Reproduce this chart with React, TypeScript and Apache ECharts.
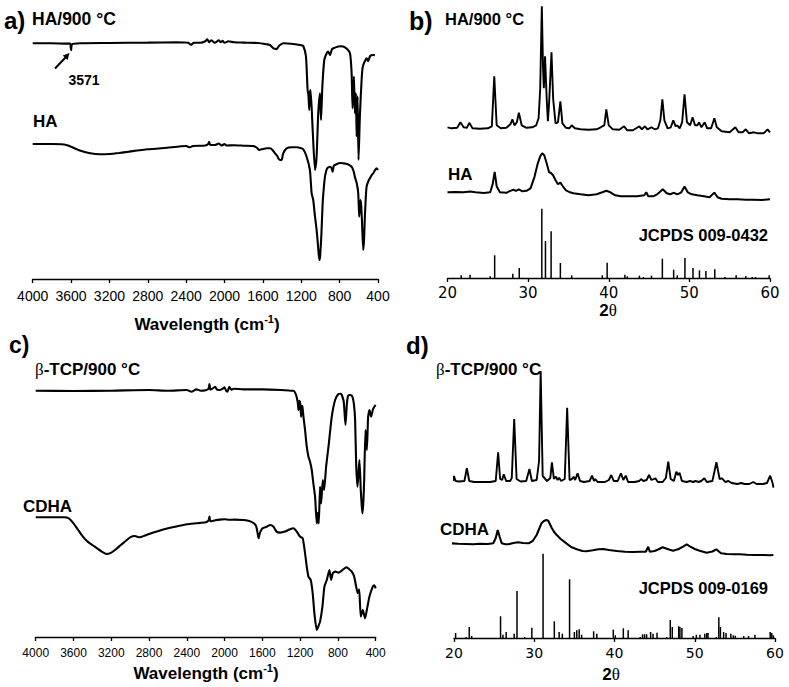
import React, { useEffect, useRef } from "react";
import * as echarts from "echarts";

// ---------- Panel a: FTIR (wavenumber, relative transmittance a.u.) ----------
const FTIR_TICKS = [4000, 3600, 3200, 2800, 2400, 2000, 1600, 1200, 800, 400];

const HA900_FTIR: number[][] = [
  [4000, 0], [3800, 0], [3650, -0.3], [3610, -0.3], [3600, -7], [3590, -1], [3500, 0], [3200, 0.3],
  [2800, 0.7], [2500, 1], [2380, 0.5], [2350, -1.5], [2320, 0.5], [2250, 0.5], [2200, 2], [2180, 4],
  [2160, 1], [2140, 3], [2100, 0.5], [2060, 3], [2040, 1], [2020, 2.5], [2000, 0.5], [1960, 2],
  [1900, 1], [1800, 0.7], [1650, 0.3], [1560, -1], [1526, -1.7], [1491, -5], [1470, -5.5], [1457, -6],
  [1440, -3.5], [1422, -1.7], [1388, 0], [1283, -0.7], [1200, -2], [1179, -2.7], [1151, -13],
  [1134, -46.7], [1125, -52], [1117, -66.7], [1110, -50], [1103, -46.7], [1081, -86.7], [1057, -126.7],
  [1040, -113], [1023, -70], [1005, -50], [994, -76.7], [980, -43], [960, -16.7], [935, -10], [918, -8.3],
  [901, -11.7], [880, -6], [866, -5], [800, -3], [762, -3.3], [720, -6], [692, -10], [675, -30],
  [665, -65], [651, -33.3], [641, -70], [630, -50], [623, -93], [613, -53], [603, -116.7], [589, -73],
  [571, -36.7], [560, -24], [547, -20], [519, -15], [502, -18], [484, -13], [470, -12], [450, -11.7], [432, -12],
];

const HA_FTIR: number[][] = [
  [4000, 0], [3800, 0], [3700, -0.3], [3650, -1], [3600, -2.7], [3500, -6.7], [3400, -9.3], [3300, -10.3],
  [3200, -10], [3100, -9], [3000, -7.7], [2800, -5.3], [2600, -3.7], [2400, -2], [2360, -3.3], [2330, -2],
  [2200, -1.5], [2170, 0], [2160, 2.3], [2150, -1], [2100, -1], [2060, 0.5], [2030, -1.5], [2000, 0],
  [1980, -1.5], [1900, -1.3], [1800, -1.7], [1700, -2], [1660, -4], [1640, -6], [1600, -5], [1560, -4.3],
  [1526, -4.3], [1500, -6], [1474, -9.3], [1450, -12], [1439, -14.3], [1420, -16], [1405, -16],
  [1388, -9.3], [1353, -4.3], [1300, -3.3], [1248, -3.3], [1200, -4.3], [1179, -5.3], [1144, -12.7],
  [1110, -26], [1092, -49.3], [1075, -56], [1060, -70], [1040, -86], [1025, -102], [1012, -116],
  [1005, -114], [990, -90], [977, -59.3], [965, -44], [953, -32.7], [940, -27], [929, -24.3], [901, -22.7],
  [885, -24], [873, -27.7], [862, -22], [849, -21], [800, -19], [762, -19.3], [720, -20], [675, -22.7],
  [655, -27], [641, -32.7], [620, -40], [606, -49.3], [596, -72.7], [589, -62], [582, -56], [575, -62],
  [568, -75], [554, -106], [545, -95], [537, -72.7], [528, -55], [519, -42.7], [500, -37], [484, -34.3],
  [465, -31], [450, -29.3], [430, -26], [415, -24.3], [400, -26],
];

// ---------- Panel b: XRD (2θ, intensity a.u.) ----------
const TWO_THETA_TICKS = [20, 30, 40, 50, 60];

const HA900_XRD: number[][] = [
  [20.0, 1], [20.5, 0], [21.2, 0.5], [21.6, 6], [22.0, 1], [22.4, 0.5], [22.7, 5.5], [23.1, 0], [24.0, -0.5],
  [25.0, 0], [25.5, 2], [25.8, 52], [26.1, 3], [26.6, 0], [27.3, 0.5], [27.8, 4], [28.05, 9], [28.3, 3],
  [28.6, 6], [28.85, 15.5], [29.2, 3], [29.8, 0.5], [30.5, 1], [31.0, 3], [31.3, 10], [31.5, 40],
  [31.7, 122], [31.85, 60], [31.95, 40], [32.1, 72], [32.3, 30], [32.45, 7], [32.6, 25], [32.9, 76],
  [33.1, 30], [33.4, 5], [33.7, 6], [34.0, 27], [34.25, 5], [34.7, 0.5], [35.1, 0], [35.4, 3], [35.8, 0],
  [36.5, -1], [37.5, -1.5], [38.5, -1], [39.0, 1], [39.2, 2], [39.45, 3], [39.7, 19], [40.0, 3],
  [40.5, -1], [41.3, -1.5], [41.9, 2], [42.3, -2], [43.0, -2], [43.8, 2], [44.1, -1], [44.5, 2],
  [44.8, -1], [45.3, 1], [45.7, -1], [46.1, 0], [46.4, 8], [46.65, 29], [46.9, 8], [47.3, 0], [47.7, 1],
  [48.0, 8], [48.3, 2], [48.5, 3], [48.8, 0], [49.1, 6], [49.4, 34], [49.7, 6], [50.1, 3], [50.4, 11],
  [50.7, 3], [51.0, 3], [51.2, 6], [51.5, 1], [51.9, 6], [52.2, 0], [52.7, 0], [53.1, 10], [53.4, 1],
  [54.0, -3], [55.0, -4], [55.7, 1], [56.1, -4], [56.6, -4], [57.0, -1], [57.4, -5], [58.0, -4],
  [58.5, -5], [59.2, -5], [59.7, -1], [60.0, -4],
];

const HA_XRD: number[][] = [
  [20.0, 0], [21, 0.3], [22, 0], [22.8, 0.7], [23.5, 0], [24.5, -0.7], [25.3, 0], [25.6, 8], [25.85, 20.5],
  [26.1, 6], [26.5, 0], [27.3, -0.5], [27.8, 1.5], [28.1, 2.5], [28.5, 1.5], [28.85, 3], [29.3, 1],
  [29.8, 1.5], [30.3, 4], [30.8, 15.7], [31.2, 29], [31.5, 36], [31.75, 39], [32.0, 37], [32.3, 29],
  [32.6, 20], [32.8, 19.5], [33.1, 17], [33.4, 12], [33.7, 8], [34.0, 9.7], [34.3, 6], [34.7, 2],
  [35.2, 0], [35.6, -1], [36.5, -2], [37.5, -3], [38.5, -2], [39.2, 0], [39.7, 1.5], [40.2, 0],
  [40.8, -3], [41.5, -4], [42.5, -4], [43.5, -4], [44.4, -3], [44.65, 0], [44.9, -4], [45.5, -4],
  [46.0, -2], [46.3, 0], [46.7, 3], [47.2, -1], [47.6, -2], [48.1, -0.5], [48.5, -2], [49.0, 0],
  [49.4, 5.7], [49.8, 0], [50.3, -2], [51, -3], [51.8, -4], [52.5, -5], [53.1, -0.3], [53.5, -5],
  [54, -6.5], [55, -7], [56, -7], [57, -7.5], [58, -7.5], [59, -7.7], [60, -7],
];

const JCPDS_0432: number[][] = [
  [21.7, 2.7], [22.8, 3.3], [25.3, 1.7], [25.85, 22.7], [28.1, 4.3], [28.9, 10], [31.7, 69.3], [32.15, 37],
  [32.85, 46.7], [34.0, 15], [35.4, 2.7], [39.2, 2.7], [39.8, 15.3], [42.0, 3.3], [42.3, 1.7], [43.8, 2.3],
  [44.3, 1], [45.3, 2.3], [46.65, 19.3], [48.05, 8.3], [48.5, 2.7], [49.45, 20], [50.45, 10], [51.25, 7.7],
  [52.05, 7], [53.15, 8.7], [54.4, 1], [55.8, 2.7], [57.0, 2], [57.8, 1], [58.2, 1], [59.9, 2.7],
];

// ---------- Panel c: FTIR ----------
const TCP900_FTIR: number[][] = [
  [4000, 0], [3600, -0.3], [3200, 0], [2800, 0.7], [2600, 0], [2400, 0.7], [2350, -1], [2300, 1.3],
  [2250, 0], [2200, 0.5], [2170, 2], [2160, 6.7], [2150, 1], [2130, 2], [2100, 4], [2080, 1], [2050, 0.7],
  [2020, 2], [2000, 3.3], [1985, 0], [1970, -1], [1950, 4], [1930, 1], [1900, 2], [1800, 1.3], [1600, 1.3],
  [1400, 0.7], [1300, 0], [1271, 0], [1243, -4.3], [1225, -12], [1218, -19.3], [1210, -10], [1201, -11],
  [1190, -26], [1183, -15], [1176, -16], [1165, -26], [1148, -39.3], [1130, -56], [1112, -66], [1095, -71],
  [1077, -79.3], [1060, -92.7], [1042, -106], [1024, -132.7], [1014, -122], [1003, -132.7], [989, -96],
  [978, -112.7], [960, -89.3], [946, -99.3], [925, -76], [900, -56], [865, -26], [830, -9.3], [795, -3.3],
  [770, -3], [759, -4.3], [740, -10], [734, -16], [720, -34.3], [706, -14.3], [695, -6], [681, -4.3],
  [660, -4.5], [646, -6], [630, -14], [618, -29.3], [607, -72.7], [593, -96], [582, -82.7], [572, -69.3],
  [558, -99.3], [548, -115], [540, -122.7], [530, -110], [522, -89.3], [508, -39.3], [494, -59.3],
  [480, -26], [466, -19.3], [448, -26], [431, -19.3], [415, -16], [400, -14.3],
];

const CDHA_FTIR: number[][] = [
  [4000, 0], [3800, 0], [3700, 0], [3650, -1], [3600, -6], [3550, -12.7], [3500, -19.3], [3450, -24.3],
  [3400, -27.7], [3350, -31], [3300, -34.3], [3250, -36.7], [3200, -35.3], [3150, -32], [3100, -27.7],
  [3050, -24], [3000, -20], [2950, -18.7], [2900, -20], [2850, -18.5], [2800, -16.7], [2700, -13.7],
  [2600, -11], [2500, -9], [2400, -7], [2300, -6], [2200, -5], [2170, -3], [2160, 0.7], [2150, -4],
  [2100, -3], [2050, -2.3], [2000, -2], [1950, -2.5], [1900, -2.3], [1800, -2.7], [1750, -3.5],
  [1700, -5.3], [1670, -8], [1660, -11], [1650, -16], [1640, -21], [1630, -17], [1620, -14.3],
  [1600, -11], [1550, -9.3], [1519, -7.7], [1484, -9.3], [1449, -14.3], [1413, -15.3], [1360, -14.3],
  [1307, -12], [1271, -11], [1236, -14.3], [1201, -19.3], [1173, -21], [1148, -36], [1130, -49.3],
  [1112, -59.3], [1088, -62.7], [1067, -76], [1049, -96], [1024, -112.7], [1007, -109], [989, -104.3],
  [964, -89.3], [943, -69.3], [918, -62.7], [890, -52.7], [872, -62.7], [854, -56], [826, -54.3],
  [795, -55.3], [759, -53.3], [730, -51], [706, -50], [680, -52], [653, -54.3], [628, -59.3], [607, -69.3],
  [590, -76], [575, -72], [558, -99.3], [537, -92.7], [512, -101], [494, -92.7], [466, -79.3], [431, -69.3],
  [415, -68], [400, -71],
];

// ---------- Panel d: XRD ----------
const TCP900_XRD: number[][] = [
  [19.9, 0], [20.0, 5], [20.2, 0], [20.6, -0.5], [21.3, 0], [21.6, 12.7], [21.9, 0], [22.5, -1], [23.5, -1],
  [24.5, -1], [25.2, 0], [25.5, 28.7], [25.75, 2], [26.0, 1], [26.2, 6.7], [26.5, 0], [27.0, 0], [27.2, 3],
  [27.5, 62], [27.8, 2], [28.3, -0.5], [29.0, 0], [29.4, 12], [29.7, 0], [30.3, 1], [30.6, 20], [30.8, 110],
  [31.05, 5], [31.6, 0], [32.0, 3], [32.2, 18.7], [32.45, 2], [32.7, 4.3], [32.9, 1], [33.1, 3.3],
  [33.35, 0], [33.8, 2], [34.1, 73.3], [34.4, 1], [34.7, 2], [34.9, 4.3], [35.1, 1], [35.4, 7.7], [35.7, 0],
  [36.2, -1], [36.9, 0], [37.2, 5.3], [37.45, 0], [37.6, 2], [37.9, -1], [38.8, -1], [39.3, 1], [39.6, 6],
  [39.9, 0], [40.4, 0], [40.8, 7.7], [41.1, 1], [41.4, 5.3], [41.7, -1], [42.5, -1], [43.1, 0], [43.3, 2],
  [43.6, 0], [44.0, 1], [44.3, 6], [44.6, 1], [45.1, 2.7], [45.4, -1], [46.0, -1], [46.4, 3], [46.7, 19.3],
  [47.0, 2], [47.4, 0], [47.7, 9.3], [47.9, 6], [48.1, 8.3], [48.4, 0], [49.0, -1], [49.4, 0], [49.8, -1],
  [50.1, 0], [50.5, -1], [50.8, 0], [51.2, 2.7], [51.5, -1], [52.2, 0], [52.7, 18.7], [53.1, 2],
  [53.4, 2.7], [53.8, -1], [54.2, 0], [54.6, -2], [55.3, -3], [55.8, -2], [56.2, -3], [56.8, -3],
  [57.3, -1], [57.7, -3], [58.5, -3], [59.0, -2], [59.4, 5.3], [59.7, -2], [59.8, -6.7],
];

const CDHA_XRD: number[][] = [
  [19.7, 0.7], [20.5, 0.3], [21.5, 0], [22.4, -0.3], [23.2, 0.3], [24.2, 0], [24.9, 0.7], [25.2, 6],
  [25.45, 14], [25.7, 7], [25.95, 0.7], [26.4, -0.3], [26.8, -0.3], [27.4, 1], [28.0, 1.7], [28.6, 1],
  [29.3, 0.7], [29.8, 3], [30.3, 9], [30.6, 15], [30.9, 20.7], [31.2, 23], [31.5, 24], [31.75, 23.3],
  [32.0, 19], [32.2, 15.7], [32.5, 11.7], [32.8, 9], [33.3, 5], [34.0, 0.7], [34.6, -3], [35.3, -5.3],
  [36.0, -7], [36.5, -7.3], [37.3, -6.3], [38.0, -5.3], [38.6, -5], [39.3, -6], [40.3, -7], [41.3, -7.7],
  [42.3, -8], [43.2, -7.7], [43.9, -7.7], [44.2, -2.7], [44.4, -7.7], [45.0, -7], [45.5, -5.3],
  [46.0, -3.3], [46.6, -5], [47.3, -6.7], [48.0, -5], [48.6, -2.3], [49.0, -0.3], [49.4, -2.3],
  [50.0, -5], [50.6, -6.7], [51.5, -8.7], [52.2, -7.5], [52.7, -5.3], [53.0, -7.5], [53.3, -9.3],
  [54.0, -10], [55.0, -10.3], [55.6, -10.3], [56.5, -10.7], [57.5, -11], [58.5, -11], [59.4, -11.3], [59.8, -11],
];

const JCPDS_0169: number[][] = [
  [20.2, 5], [21.5, 1], [21.9, 11], [22.2, 2], [25.8, 21.7], [26.1, 3.3], [26.5, 6], [27.5, 4.3],
  [27.85, 47], [28.8, 1], [29.7, 10.3], [31.1, 84.3], [32.5, 16.7], [33.1, 6], [33.5, 4.3], [34.4, 58.7],
  [35.0, 6], [35.3, 7.7], [35.6, 8.7], [35.9, 3.3], [37.4, 6.7], [37.8, 4.3], [39.85, 8.3], [40.1, 2.7],
  [41.1, 9.7], [41.7, 7.7], [43.2, 1], [43.5, 3.7], [43.75, 3.7], [44.0, 3.7], [44.5, 6], [44.8, 4.3],
  [45.3, 5.3], [46.5, 1], [46.95, 18], [47.2, 11], [48.0, 11.7], [48.15, 11], [48.4, 10], [49.8, 2],
  [50.2, 3.3], [50.65, 3.3], [51.25, 4.3], [51.5, 5], [51.65, 5], [52.7, 1], [53.0, 20.7], [53.2, 11],
  [53.6, 6], [53.9, 5], [54.5, 4.3], [54.8, 2.7], [55.05, 2.3], [56.1, 2], [56.7, 2], [57.5, 3.3],
  [59.4, 6], [59.6, 5], [59.8, 2.7],
];

// ---------- layout (pixels) ----------
const GRIDS = [
  { left: 32.7, top: 0, width: 345.3, height: 279 },
  { left: 447.5, top: 0, width: 322.5, height: 278 },
  { left: 35.7, top: 345, width: 340, height: 292 },
  { left: 454, top: 345, width: 321, height: 293 },
];
const OFFSETS = { a1: 235.7, a2: 135, b1: 149.7, b2: 85.7, c1: 246.3, c2: 119.7, d1: 157, d2: 94 };

const SANS = "'Liberation Sans', Arial, sans-serif";
const SERIF = "'Liberation Serif', 'DejaVu Serif', serif";

const shift = (arr: number[][], off: number) => arr.map(([x, y]) => [x, off + y]);

function xAxis(gi: number, ftir: boolean, fontSize: number, fontFamily: string, margin: number) {
  return {
    type: "value",
    gridIndex: gi,
    min: ftir ? 400 : 20,
    max: ftir ? 4000 : 60,
    interval: ftir ? 400 : 10,
    inverse: ftir,
    axisLine: { show: true, onZero: false, lineStyle: { color: "#000", width: 1.3 } },
    axisTick: { show: true, length: 4, lineStyle: { color: "#000", width: 1.3 } },
    axisLabel: {
      color: "#000",
      fontSize,
      fontFamily,
      margin,
      showMinLabel: true,
      showMaxLabel: true,
      formatter: (v: number) => String(v),
    },
    splitLine: { show: false },
  };
}

function lineSeries(gi: number, data: number[][], width: number, smooth: number | boolean) {
  return {
    type: "line",
    xAxisIndex: gi,
    yAxisIndex: gi,
    data,
    symbol: "none",
    smooth,
    clip: false,
    lineStyle: { color: "#000", width },
    silent: true,
  };
}

function stickSeries(gi: number, data: number[][]) {
  return {
    type: "bar",
    xAxisIndex: gi,
    yAxisIndex: gi,
    data,
    barWidth: 1.5,
    itemStyle: { color: "#000" },
    silent: true,
  };
}

function txt(x: number, y: number, text: string, size: number, opts: any = {}) {
  return {
    type: "text",
    x,
    y,
    silent: true,
    style: {
      text,
      fill: "#000",
      fontSize: size,
      fontWeight: opts.weight ?? "bold",
      fontFamily: opts.family ?? SANS,
      textAlign: opts.align ?? "left",
      textVerticalAlign: "middle",
      rich: opts.rich,
    },
  };
}

const wavelengthRich = {
  m: { fontSize: 17, fontWeight: "bold", fontFamily: SANS, lineHeight: 22, fill: "#000" },
  s: { fontSize: 11, fontWeight: "bold", fontFamily: SANS, lineHeight: 12, verticalAlign: "top", fill: "#000" },
};
const thetaRich = {
  b: { fontSize: 17, fontWeight: "bold", fontFamily: SANS, fill: "#000" },
  t: { fontSize: 17, fontWeight: "normal", fontFamily: SERIF, fill: "#000" },
};
const betaRich = (size: number) => ({
  g: { fontSize: size, fontWeight: "normal", fontFamily: SERIF, fill: "#000" },
  b: { fontSize: size, fontWeight: "bold", fontFamily: SANS, fill: "#000" },
});

export default function App() {
  const ref = useRef<HTMLDivElement>(null);
  useEffect(() => {
    document.body.style.margin = "0";
    if (!ref.current) return;
    const chart = echarts.init(ref.current, undefined, { renderer: "svg" });
    const option: any = {
      animation: false,
      backgroundColor: "#fff",
      grid: GRIDS.map((g) => ({ ...g, containLabel: false })),
      xAxis: [
        xAxis(0, true, 14, SANS, 10),
        xAxis(1, false, 15, "'DejaVu Sans', sans-serif", 7),
        xAxis(2, true, 12, SANS, 10),
        xAxis(3, false, 14, "'DejaVu Sans', sans-serif", 8),
      ],
      yAxis: GRIDS.map((g, i) => ({ type: "value", gridIndex: i, min: 0, max: g.height, show: false })),
      series: [
        lineSeries(0, shift(HA900_FTIR, OFFSETS.a1), 2.1, 0.2),
        lineSeries(0, shift(HA_FTIR, OFFSETS.a2), 2.1, 0.2),
        lineSeries(1, shift(HA900_XRD, OFFSETS.b1), 1.9, false),
        lineSeries(1, shift(HA_XRD, OFFSETS.b2), 2, false),
        stickSeries(1, JCPDS_0432),
        lineSeries(2, shift(TCP900_FTIR, OFFSETS.c1), 2.1, 0.2),
        lineSeries(2, shift(CDHA_FTIR, OFFSETS.c2), 2.1, 0.2),
        lineSeries(3, shift(TCP900_XRD, OFFSETS.d1), 1.9, false),
        lineSeries(3, shift(CDHA_XRD, OFFSETS.d2), 2.1, false),
        stickSeries(3, JCPDS_0169),
      ],
      graphic: [
        // panel a
        txt(4, 20, "a)", 24),
        txt(32, 19, "HA/900 °C", 17.5),
        txt(84, 80, "3571", 14, { align: "center" }),
        { type: "line", silent: true, shape: { x1: 55, y1: 68.5, x2: 65.5, y2: 57.5 }, style: { stroke: "#000", lineWidth: 2 } },
        { type: "polygon", silent: true, shape: { points: [[69.5, 53], [67.6, 60], [62.8, 55.4]] }, style: { fill: "#000" } },
        txt(33, 121, "HA", 17),
        txt(207, 324, "{m|Wavelength (cm}{s|-1}{m|)}", 17, { align: "center", rich: wavelengthRich }),
        // panel b
        txt(409, 21, "b)", 25),
        txt(445, 19, "HA/900 °C", 16.5),
        txt(448, 174, "HA", 17),
        txt(768, 234.5, "JCPDS 009-0432", 16.5, { align: "right" }),
        txt(608, 310, "{b|2}{t|θ}", 17, { align: "center", rich: thetaRich }),
        // panel c
        txt(9, 344.5, "c)", 23),
        txt(35, 369, "{g|β}{b|-TCP/900 °C}", 17, { rich: betaRich(17) }),
        txt(23, 506, "CDHA", 17),
        txt(206, 673, "{m|Wavelength (cm}{s|-1}{m|)}", 17, { align: "center", rich: wavelengthRich }),
        // panel d
        txt(406, 345, "d)", 24),
        txt(436, 369, "{g|β}{b|-TCP/900 °C}", 17, { rich: betaRich(17) }),
        txt(440, 529, "CDHA", 17),
        txt(768, 587.5, "JCPDS 009-0169", 16.5, { align: "right" }),
        txt(611, 674, "{b|2}{t|θ}", 17, { align: "center", rich: thetaRich }),
      ],
    };
    chart.setOption(option);
    return () => chart.dispose();
  }, []);
  return <div ref={ref} style={{ width: 789, height: 687 }} />;
}
